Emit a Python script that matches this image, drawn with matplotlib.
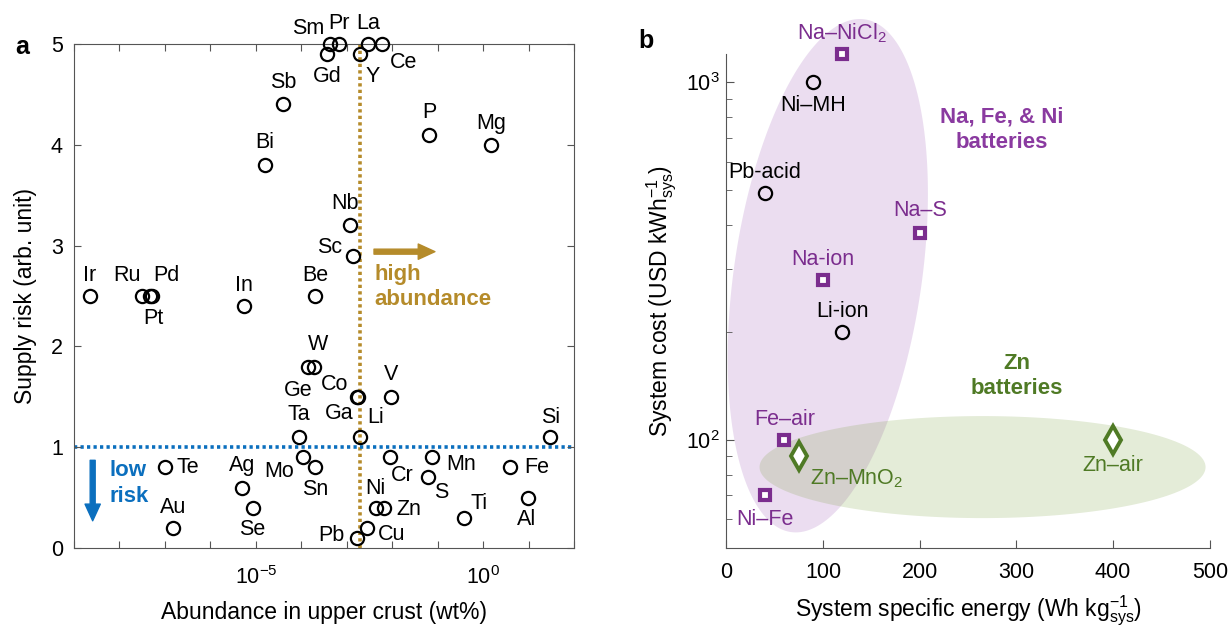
import numpy as np
import matplotlib
matplotlib.use('Agg')
import matplotlib.pyplot as plt
from matplotlib.ticker import LogLocator, NullLocator, NullFormatter, FuncFormatter

plt.rcParams.update({
    'font.family': ['Liberation Sans', 'DejaVu Sans'],
    'mathtext.fontset': 'custom',
    'mathtext.rm': 'Liberation Sans',
    'mathtext.it': 'Liberation Sans:italic',
    'mathtext.bf': 'Liberation Sans:bold',
})

# ---- panel a data: abundance in upper crust (wt%) vs supply risk
elements = ['Sm', 'Pr', 'Gd', 'La', 'Ce', 'Y', 'Sb', 'Bi', 'P', 'Mg', 'Nb', 'Sc',
            'Ir', 'Ru', 'Pd', 'Pt', 'In', 'Be', 'W', 'Ge', 'Co', 'Ga', 'V', 'Ta',
            'Li', 'Si', 'Mo', 'Sn', 'Te', 'Ag', 'Se', 'Au', 'Cr', 'Mn', 'S', 'Fe',
            'Al', 'Ti', 'Ni', 'Zn', 'Pb', 'Cu']
abundance = [4.3e-4, 6.6e-4, 3.7e-4, 3.0e-3, 5.9e-3, 2.0e-3, 4.0e-5, 1.6e-5, 0.065, 1.5,
             1.2e-3, 1.4e-3, 2.2e-9, 3.2e-8, 5.2e-8, 4.8e-8, 5.5e-6, 2.0e-4, 1.9e-4,
             1.4e-4, 1.7e-3, 1.8e-3, 9.5e-3, 8.8e-5, 2.0e-3, 30.0, 1.1e-4, 2.0e-4,
             1.0e-7, 5.0e-6, 8.5e-6, 1.5e-7, 9.0e-3, 0.076, 0.060, 3.9, 9.5, 0.38,
             4.3e-3, 6.6e-3, 1.7e-3, 2.8e-3]
risk = [5.0, 5.0, 4.9, 5.0, 5.0, 4.9, 4.4, 3.8, 4.1, 4.0, 3.2, 2.9,
        2.5, 2.5, 2.5, 2.5, 2.4, 2.5, 1.8, 1.8, 1.5, 1.5, 1.5, 1.1,
        1.1, 1.1, 0.9, 0.8, 0.8, 0.6, 0.4, 0.2, 0.9, 0.9, 0.7, 0.8,
        0.5, 0.3, 0.4, 0.4, 0.1, 0.2]
abundance_cut = 2e-3
risk_cut = 1.0

# label offsets (points) and horizontal alignment
label_pos = {
    'Sm': (-16, 11, 'center'), 'Pr': (0, 15, 'center'), 'La': (0, 15, 'center'),
    'Ce': (16, -13, 'center'), 'Gd': (0, -16, 'center'), 'Y': (9, -16, 'center'),
    'Sb': (0, 16, 'center'), 'Bi': (0, 16, 'center'), 'P': (0, 16, 'center'),
    'Mg': (0, 15, 'center'), 'Nb': (-4, 16, 'center'), 'Sc': (-17, 6, 'center'),
    'Ir': (0, 15, 'center'), 'Ru': (-11, 15, 'center'), 'Pd': (10, 15, 'center'),
    'Pt': (2, -16, 'center'), 'In': (0, 15, 'center'), 'Be': (0, 15, 'center'),
    'W': (3, 16, 'center'), 'Ge': (-7, -17, 'center'), 'Co': (-16, 9, 'center'),
    'Ga': (-14, -12, 'center'), 'V': (0, 16, 'center'), 'Ta': (0, 16, 'center'),
    'Li': (11, 14, 'center'), 'Si': (0, 14, 'center'), 'Mo': (-17, -10, 'center'),
    'Sn': (0, -16, 'center'), 'Te': (8, 0, 'left'), 'Ag': (0, 16, 'center'),
    'Se': (0, -16, 'center'), 'Au': (0, 15, 'center'), 'Cr': (9, -13, 'center'),
    'Mn': (10, -5, 'left'), 'S': (10, -11, 'center'), 'Fe': (10, 0, 'left'),
    'Al': (-1, -16, 'center'), 'Ti': (11, 10, 'center'), 'Ni': (0, 14, 'center'),
    'Zn': (9, -1, 'left'), 'Pb': (-9, 2, 'right'), 'Cu': (8, -5, 'left'),
}

# ---- panel b data: battery chemistries
batteries = ['Na–NiCl$_2$', 'Ni–MH', 'Pb-acid', 'Na–S', 'Na-ion', 'Li-ion',
             'Fe–air', 'Zn–MnO$_2$', 'Ni–Fe', 'Zn–air']
energy = [120, 90, 40, 200, 100, 120, 60, 75, 40, 400]
cost = [1200, 1000, 490, 380, 280, 200, 100, 90, 70, 100]
group = ['naf', 'li', 'li', 'naf', 'naf', 'li', 'naf', 'zn', 'naf', 'zn']
bat_pos = {
    'Na–NiCl$_2$': (0, 15, 'center'), 'Ni–MH': (0, -17, 'center'),
    'Pb-acid': (0, 15, 'center'), 'Na–S': (0, 16, 'center'),
    'Na-ion': (0, 15, 'center'), 'Li-ion': (0, 15, 'center'),
    'Fe–air': (0, 15, 'center'), 'Zn–MnO$_2$': (8, -16, 'left'),
    'Ni–Fe': (0, -17, 'center'), 'Zn–air': (0, -18, 'center'),
}

gold = '#b58b2a'
blue = '#0b6fbe'
purple = '#7b2d8e'
green = '#4f7a25'
spine_c = '#555555'
lab_fs = 15.5
tick_fs = 15.5
axlab_fs = 16.5

fig = plt.figure(figsize=(12.32, 6.28), dpi=100)

# ================= panel a
ax = fig.add_axes([0.0601, 0.1274, 0.4058, 0.8025])
ax.set_xscale('log')
ax.set_xlim(1e-9, 1e2)
ax.set_ylim(0, 5)
ax.axvline(abundance_cut, color=gold, lw=2.6, ls=(0, (0.9, 0.9)), zorder=1)
ax.axhline(risk_cut, color=blue, lw=2.6, ls=(0, (0.9, 0.9)), zorder=1)
ax.plot(abundance, risk, 'o', ms=9.5, mfc='none', mec='black', mew=1.6,
        clip_on=False, zorder=3)
for el, xv, yv in zip(elements, abundance, risk):
    dx, dy, ha = label_pos[el]
    ax.annotate(el, (xv, yv), xytext=(dx, dy), textcoords='offset points',
                ha=ha, va='center', fontsize=lab_fs)

ax.annotate('', xy=(10**-1.06, 2.94), xytext=(10**-2.40, 2.94),
            arrowprops=dict(facecolor=gold, edgecolor=gold, width=3.6,
                            headwidth=11, headlength=12, shrink=0))
ax.text(10**-2.40, 2.59, 'high\nabundance', color=gold, fontsize=16,
        fontweight='bold', ha='left', va='center', linespacing=1.3)
ax.annotate('', xy=(10**-8.59, 0.27), xytext=(10**-8.59, 0.87),
            arrowprops=dict(facecolor=blue, edgecolor=blue, width=3.6,
                            headwidth=11, headlength=12, shrink=0))
ax.text(10**-8.21, 0.64, 'low\nrisk', color=blue, fontsize=16,
        fontweight='bold', ha='left', va='center', linespacing=1.3)

ax.xaxis.set_major_locator(LogLocator(base=10, numticks=30))
ax.xaxis.set_minor_locator(NullLocator())


def xfmt(v, p):
    e = int(round(np.log10(v)))
    return r'$\mathdefault{10^{%d}}$' % e if e in (-5, 0) else ''


ax.xaxis.set_major_formatter(FuncFormatter(xfmt))
ax.set_yticks([0, 1, 2, 3, 4, 5])
ax.tick_params(direction='in', top=True, right=True, length=5, color=spine_c,
               labelsize=tick_fs, pad=8)
ax.tick_params(axis='x', pad=13)
for s in ax.spines.values():
    s.set_color(spine_c)
ax.set_xlabel('Abundance in upper crust (wt%)', fontsize=axlab_fs, labelpad=9)
ax.set_ylabel('Supply risk (arb. unit)', fontsize=axlab_fs, labelpad=10)
fig.text(0.012, 0.925, 'a', fontsize=18, fontweight='bold', va='center')

# ================= panel b
bx = fig.add_axes([0.5895, 0.1279, 0.3925, 0.7861])
bx.set_yscale('log')
bx.set_xlim(0, 500)
bx.set_ylim(50, 1200)
bx.spines['top'].set_visible(False)
bx.spines['right'].set_visible(False)
for s in ('left', 'bottom'):
    bx.spines[s].set_color(spine_c)


def ellipse(axis, center, a_px, b_px, tilt_deg, **kw):
    # a_px along the axis tilted tilt_deg clockwise from vertical
    cx, cy = axis.transData.transform(center)
    t = np.linspace(0, 2 * np.pi, 300)
    th = np.radians(tilt_deg)
    ux, uy = np.sin(th), np.cos(th)
    vx, vy = np.cos(th), -np.sin(th)
    px = cx + a_px * np.cos(t) * ux + b_px * np.sin(t) * vx
    py = cy + a_px * np.cos(t) * uy + b_px * np.sin(t) * vy
    pts = axis.transData.inverted().transform(np.column_stack([px, py]))
    axis.fill(pts[:, 0], pts[:, 1], lw=0, clip_on=False, **kw)


ellipse(bx, (105, 288), 259, 94, 8.2, color='#9b59b6', alpha=0.2, zorder=0)
ellipse(bx, (265, 84), 223, 51, 90, color='#78a03c', alpha=0.2, zorder=0)

for name, xv, yv, g in zip(batteries, energy, cost, group):
    if g == 'li':
        bx.plot(xv, yv, 'o', ms=9.5, mfc='none', mec='black', mew=1.6,
                clip_on=False, zorder=3)
        c = 'black'
    elif g == 'naf':
        bx.plot(xv, yv, 's', ms=7.5, mfc='white', mec=purple, mew=3.0,
                clip_on=False, zorder=3)
        c = purple
    else:
        bx.plot(xv, yv, 'd', ms=14, mfc='white', mec=green, mew=2.8,
                clip_on=False, zorder=3)
        c = green
    dx, dy, ha = bat_pos[name]
    bx.annotate(name, (xv, yv), xytext=(dx, dy), textcoords='offset points',
                ha=ha, va='center', fontsize=lab_fs, color=c)

bx.text(285, 736, 'Na, Fe, & Ni\nbatteries', color='#8a3aa0', fontsize=16,
        fontweight='bold', ha='center', va='center', linespacing=1.3)
bx.text(300, 151, 'Zn\nbatteries', color=green, fontsize=16,
        fontweight='bold', ha='center', va='center', linespacing=1.3)

bx.set_xticks([0, 100, 200, 300, 400, 500])
bx.yaxis.set_minor_formatter(NullFormatter())
bx.tick_params(which='both', direction='in', color=spine_c, labelsize=tick_fs, pad=10)
bx.tick_params(axis='y', which='both', pad=5)
bx.tick_params(which='major', length=6)
bx.tick_params(which='minor', length=4)
bx.set_xlabel('System specific energy (Wh kg$^{-1}_{\\mathrm{sys}}$)',
              fontsize=axlab_fs, labelpad=8)
bx.set_ylabel('System cost (USD kWh$^{-1}_{\\mathrm{sys}}$)', fontsize=axlab_fs,
              labelpad=5)
fig.text(0.518, 0.935, 'b', fontsize=18, fontweight='bold', va='center')

fig.savefig('out.png', dpi=100)
